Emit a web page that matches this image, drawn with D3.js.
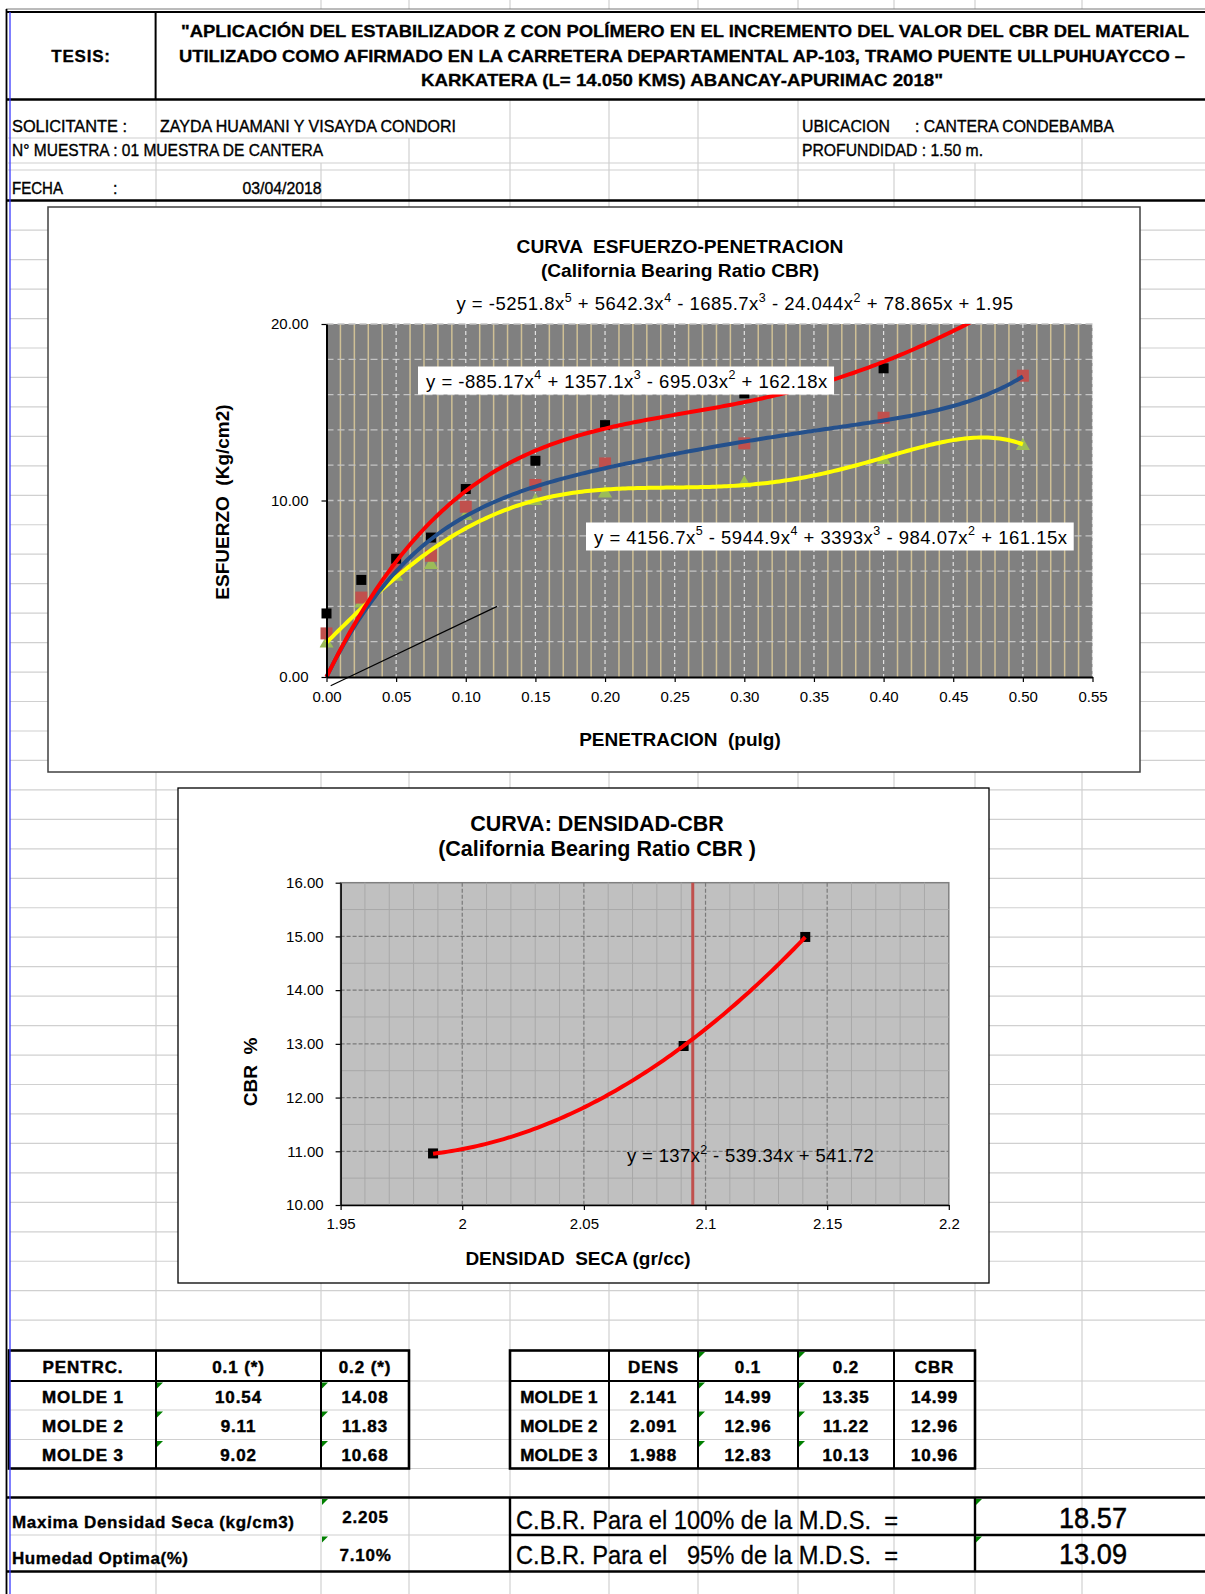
<!DOCTYPE html>
<html>
<head>
<meta charset="utf-8">
<script src="https://cdn.jsdelivr.net/npm/d3@7"></script>
<style>
  html, body { margin: 0; padding: 0; background: #fff; }
  svg { display: block; font-family: "Liberation Sans", Arial, Helvetica, sans-serif; }
  text { white-space: pre; }
</style>
</head>
<body>
<svg id="sheet" width="1205" height="1594"></svg>
<script>
// ---------------- data ----------------
// Esfuerzo-penetracion test readings (kg/cm2) per mould
const penetracion      = [0, 0.025, 0.05, 0.075, 0.1, 0.15, 0.2, 0.3, 0.4, 0.5];
const esfuerzoMolde1   = [3.6, 5.5, 6.7, 7.9, 10.65, 12.25, 14.27, 16.07, 17.49, null];
const esfuerzoMolde2   = [2.47, 4.5, 6.1, 6.87, 9.65, 10.88, 12.1, 13.24, 14.69, 17.07];
const esfuerzoMolde3   = [1.9, 4.17, 5.68, 6.35, 9.12, 9.97, 10.4, 10.97, 12.3, 13.09];
// polynomial trend lines, highest power first
const ajusteMolde1 = [-885.17, 1357.1, -695.03, 162.18, 0];
const ajusteMolde2 = [4156.7, -5944.9, 3393, -984.07, 161.15, 0];
const ajusteMolde3 = [-5251.8, 5642.3, -1685.7, -24.044, 78.865, 1.95];
// origin correction line (penetracion, esfuerzo)
const correccionX = [0.003, 0.1225];
const correccionY = [-0.5, 4.0];
const ticksPenetracion = [0, 0.05, 0.1, 0.15, 0.2, 0.25, 0.3, 0.35, 0.4, 0.45, 0.5, 0.55];
const ticksEsfuerzo = [0, 10, 20];

// Densidad-CBR
const densidadSeca = [2.141, 2.091, 1.988];
const cbrMolde     = [14.99, 12.96, 10.96];
const ajusteDensidad = [137, -539.34, 541.72];
const maxDensidadSeca = 2.205;
const humedadOptima = "7.10%";
const ticksDensidad = [1.95, 2, 2.05, 2.1, 2.15, 2.2];
const ticksCbr = [10, 11, 12, 13, 14, 15, 16];

// tables
const moldes   = ["MOLDE 1", "MOLDE 2", "MOLDE 3"];
const carga01  = [10.54, 9.11, 9.02];
const carga02  = [14.08, 11.83, 10.68];
const cbr01    = [14.99, 12.96, 12.83];
const cbr02    = [13.35, 11.22, 10.13];
const cbrFinal = [14.99, 12.96, 10.96];
const cbr100 = 18.57;
const cbr95  = 13.09;

// ---------------- helpers ----------------
const svg = d3.select("#sheet");
const poly = (c, x) => c.reduce((a, k) => a * x + k, 0);

function txt(g, x, y, s, o = {}) {
  const t = g.append("text")
    .attr("x", x).attr("y", y)
    .attr("font-size", o.size || 14)
    .attr("font-weight", o.bold ? "bold" : "normal")
    .attr("text-anchor", o.anchor || "start")
    .attr("dominant-baseline", "central")
    .attr("fill", o.fill || "#000")
    .text(s);
  if (o.len) t.attr("textLength", o.len).attr("lengthAdjust", o.adjust || "spacing");
  if (o.ls != null) t.attr("letter-spacing", o.ls);
  if (o.heavy) t.attr("stroke", "#000").attr("stroke-width", o.heavy);
  return t;
}
function line(g, x1, y1, x2, y2, stroke, w, dash) {
  const l = g.append("line").attr("x1", x1).attr("y1", y1).attr("x2", x2).attr("y2", y2)
    .attr("stroke", stroke).attr("stroke-width", w);
  if (dash) l.attr("stroke-dasharray", dash);
  return l;
}
// equation text with superscript powers, built from the coefficients
function equation(g, x, y, coefs, o = {}) {
  const n = coefs.length - 1;
  const t = g.append("text").attr("x", x).attr("y", y)
    .attr("font-size", o.size || 18.5).attr("letter-spacing", o.ls != null ? o.ls : 0.5)
    .attr("text-anchor", o.anchor || "start").attr("dominant-baseline", "central");
  let first = true, raised = false;
  coefs.forEach((c, i) => {
    const p = n - i;
    if (c === 0) return;
    const mag = String(Math.abs(c));
    let s = first ? "y = " + (c < 0 ? "-" : "") + mag : (c < 0 ? " - " : " + ") + mag;
    if (p >= 1) s += "x";
    const ts = t.append("tspan").text(s);
    if (raised) { ts.attr("dy", 5.5); raised = false; }
    if (p >= 2) {
      t.append("tspan").text(String(p)).attr("font-size", 12.5).attr("dy", -5.5);
      raised = true;
    }
    first = false;
  });
  return t;
}

// ---------------- spreadsheet grid ----------------
const COLS = [156, 321, 409, 510, 609, 698, 798, 894, 975, 1082];
const grid = svg.append("g");
const GRIDC = "#d0d0d0";
// tiny column stubs above the top border
COLS.slice(1).forEach(x => line(grid, x, 0, x, 9, GRIDC, 1.2));
// header info rows
[138, 163, 170].forEach(y => line(grid, 8, y, 1205, y, GRIDC, 1.2));
[[156, 100], [321, 163], [409, 138], [510, 100], [609, 100], [698, 100], [798, 100],
 [894, 163], [975, 163], [1082, 138]].forEach(([x, y0]) => line(grid, x, y0, x, 200, GRIDC, 1.2));
// body rows and columns
const ROW0 = 200.7, ROWH = 29.46;
for (let k = 1; k <= 38; k++) line(grid, 10, ROW0 + k * ROWH, 1205, ROW0 + k * ROWH, GRIDC, 1.2);
[1381, 1410, 1439.5, 1468.5, 1535].forEach(y => line(grid, 10, y, 1205, y, GRIDC, 1.2));
COLS.forEach(x => line(grid, x, 200, x, 1594, GRIDC, 1.2));

// ---------------- header ----------------
const hdr = svg.append("g");
line(hdr, 6, 9, 1205, 9, "#777", 1);
line(hdr, 6, 12, 1205, 12, "#000", 2);
line(hdr, 155.6, 12, 155.6, 99, "#000", 2);
line(hdr, 6, 99.5, 1205, 99.5, "#000", 2.6);
line(hdr, 6, 200.5, 1205, 200.5, "#000", 2.6);

const TT = { size: 17, bold: true, anchor: "middle", adjust: "spacingAndGlyphs", heavy: 0.3 };
txt(hdr, 81, 56, "TESIS:", { size: 17, bold: true, anchor: "middle", ls: 0.8, heavy: 0.3 });
txt(hdr, 685, 31.5, "\"APLICACIÓN DEL ESTABILIZADOR Z CON POLÍMERO EN EL INCREMENTO DEL VALOR DEL CBR DEL MATERIAL",
  { ...TT, len: 1008 });
txt(hdr, 682, 56, "UTILIZADO COMO AFIRMADO EN LA CARRETERA DEPARTAMENTAL AP-103, TRAMO PUENTE ULLPUHUAYCCO –",
  { ...TT, len: 1006 });
txt(hdr, 682, 80.5, "KARKATERA (L= 14.050 KMS) ABANCAY-APURIMAC 2018\"", { ...TT, len: 522 });

const HI = { size: 16, heavy: 0.35, adjust: "spacingAndGlyphs" };
txt(hdr, 12, 126, "SOLICITANTE :", { ...HI, len: 115 });
txt(hdr, 160, 126, "ZAYDA HUAMANI Y VISAYDA CONDORI", { ...HI, len: 296 });
txt(hdr, 802, 126, "UBICACION", { ...HI, len: 88 });
txt(hdr, 915, 126, ": CANTERA CONDEBAMBA", { ...HI, len: 199 });
txt(hdr, 12, 150.5, "N° MUESTRA : 01 MUESTRA DE CANTERA", { ...HI, len: 311 });
txt(hdr, 802, 150.5, "PROFUNDIDAD : 1.50 m.", { ...HI, len: 181 });
txt(hdr, 12, 188, "FECHA", { ...HI, len: 51 });
txt(hdr, 113, 188, ":", { size: 16, heavy: 0.35 });
txt(hdr, 282, 188, "03/04/2018", { ...HI, anchor: "middle", len: 79 });

// ---------------- chart 1: esfuerzo-penetracion ----------------
const c1 = svg.append("g");
c1.append("rect").attr("x", 48).attr("y", 207).attr("width", 1092).attr("height", 565)
  .attr("fill", "#fff").attr("stroke", "#404040").attr("stroke-width", 1.5);

const x1 = d3.scaleLinear().domain([0, 0.55]).range([326.5, 1092.5]);
const y1 = d3.scaleLinear().domain([0, 20]).range([677, 324]);

txt(c1, 680, 246.5, "CURVA  ESFUERZO-PENETRACION", { size: 19.2, bold: true, anchor: "middle" });
txt(c1, 680, 270, "(California Bearing Ratio CBR)", { size: 19.2, bold: true, anchor: "middle" });

c1.append("rect").attr("x", x1(0)).attr("y", y1(20))
  .attr("width", x1(0.55) - x1(0)).attr("height", y1(0) - y1(20)).attr("fill", "#808080");

// minor vertical grid every 0.01
d3.range(1, 55).filter(i => i % 5 !== 0).forEach(i =>
  line(c1, x1(i / 100), y1(20), x1(i / 100), y1(0), "#cfc096", 1.5));
// horizontal dashed grid every 2
d3.range(2, 21, 2).forEach(v => line(c1, x1(0), y1(v), x1(0.55), y1(v), "#c4c4c4", 1.3, "7,4"));
// vertical dashed grid every 0.05
ticksPenetracion.slice(1).forEach(v => line(c1, x1(v), y1(20), x1(v), y1(0), "#e2e2e2", 1.2, "4,3"));

const clip1 = svg.append("defs").append("clipPath").attr("id", "plot1");
clip1.append("rect").attr("x", x1(0) - 7).attr("y", y1(20)).attr("width", x1(0.55) - x1(0) + 14)
  .attr("height", y1(0) - y1(20) + 3);
const plot1 = c1.append("g").attr("clip-path", "url(#plot1)");

// markers
const pts = (vals) => penetracion.map((p, i) => [p, vals[i]]).filter(d => d[1] != null);
plot1.selectAll(".m3").data(pts(esfuerzoMolde3)).join("path")
  .attr("d", d3.symbol(d3.symbolTriangle, 85))
  .attr("transform", d => `translate(${x1(d[0])},${y1(d[1])})`).attr("fill", "#9bbb59");
plot1.selectAll(".m2").data(pts(esfuerzoMolde2)).join("rect")
  .attr("x", d => x1(d[0]) - 6).attr("y", d => y1(d[1]) - 6).attr("width", 12).attr("height", 12)
  .attr("fill", "#c0504d");
plot1.selectAll(".m1").data(pts(esfuerzoMolde1)).join("rect")
  .attr("x", d => x1(d[0]) - 5).attr("y", d => y1(d[1]) - 5).attr("width", 10).attr("height", 10)
  .attr("fill", "#000");

// trend curves
const curve = (coefs, xmax) => d3.range(0, 241).map(i => {
  const xv = xmax * i / 240; return [x1(xv), y1(poly(coefs, xv))];
});
const lineGen = d3.line();
plot1.append("path").attr("d", lineGen(curve(ajusteMolde3, 0.5)))
  .attr("fill", "none").attr("stroke", "#ffff00").attr("stroke-width", 4);
plot1.append("path").attr("d", lineGen(curve(ajusteMolde2, 0.5)))
  .attr("fill", "none").attr("stroke", "#24508c").attr("stroke-width", 4);
plot1.append("path").attr("d", lineGen(curve(ajusteMolde1, 0.5)))
  .attr("fill", "none").attr("stroke", "#ff0000").attr("stroke-width", 4);

// axes
const ax1 = c1.append("g").attr("transform", `translate(0,${y1(0)})`)
  .call(d3.axisBottom(x1).tickValues(ticksPenetracion).tickFormat(d3.format(".2f"))
    .tickSize(5).tickSizeOuter(0).tickPadding(9));
const ay1 = c1.append("g").attr("transform", `translate(${x1(0)},0)`)
  .call(d3.axisLeft(y1).tickValues(ticksEsfuerzo).tickFormat(d3.format(".2f"))
    .tickSize(5).tickSizeOuter(0).tickPadding(13));
[ax1, ay1].forEach(a => {
  a.select(".domain").attr("stroke", "#000").attr("stroke-width", 2);
  a.selectAll(".tick line").attr("stroke", "#000").attr("stroke-width", 1.2);
  a.selectAll("text").attr("font-size", 15).attr("font-family", null).attr("fill", "#000");
});

// origin correction line
c1.append("path").attr("d", d3.line()(correccionX.map((v, i) => [x1(v), y1(correccionY[i])])))
  .attr("stroke", "#000").attr("stroke-width", 1.2).attr("fill", "none");

// equation labels
equation(c1, 735, 303, ajusteMolde3, { anchor: "middle" });
[[ajusteMolde1, 426, 380.5], [ajusteMolde2, 594, 536.5]].forEach(([c, x, y]) => {
  const g = c1.append("g");
  const t = equation(g, x, y, c);
  const b = t.node().getBBox();
  g.insert("rect", "text").attr("x", b.x - 8).attr("y", y - 14).attr("width", b.width + 14)
    .attr("height", 28).attr("fill", "#fff");
});

txt(c1, 680, 739, "PENETRACION  (pulg)", { size: 19, bold: true, anchor: "middle" });
txt(c1, 0, 0, "ESFUERZO  (Kg/cm2)", { size: 19, bold: true, anchor: "middle" })
  .attr("transform", "translate(222,502) rotate(-90)");

// ---------------- chart 2: densidad-CBR ----------------
const c2 = svg.append("g");
c2.append("rect").attr("x", 178).attr("y", 788).attr("width", 811).attr("height", 495)
  .attr("fill", "#fff").attr("stroke", "#000").attr("stroke-width", 1.3);

const x2 = d3.scaleLinear().domain([1.95, 2.2]).range([340.6, 948.8]);
const y2 = d3.scaleLinear().domain([10, 16]).range([1205, 882.7]);

txt(c2, 597, 824, "CURVA: DENSIDAD-CBR", { size: 21.5, bold: true, anchor: "middle" });
txt(c2, 597, 849, "(California Bearing Ratio CBR )", { size: 21.5, bold: true, anchor: "middle" });

c2.append("rect").attr("x", x2(1.95)).attr("y", y2(16))
  .attr("width", x2(2.2) - x2(1.95)).attr("height", y2(10) - y2(16))
  .attr("fill", "#c0c0c0").attr("stroke", "#808080").attr("stroke-width", 1.5);
// minor grid
d3.range(1, 25).filter(i => i % 5 !== 0).forEach(i => {
  const v = 1.95 + i / 100; line(c2, x2(v), y2(16), x2(v), y2(10), "#a8a8a8", 1);
});
d3.range(0, 12).map(i => 10.5 + i * 0.5).filter(v => v % 1 !== 0).forEach(v =>
  line(c2, x2(1.95), y2(v), x2(2.2), y2(v), "#a8a8a8", 1));
// major dashed grid
ticksDensidad.slice(1, -1).forEach(v => line(c2, x2(v), y2(16), x2(v), y2(10), "#7a7a7a", 1.2, "4,2"));
ticksCbr.slice(1, -1).forEach(v => line(c2, x2(1.95), y2(v), x2(2.2), y2(v), "#7a7a7a", 1.2, "4,2"));

// points
c2.selectAll(".dp").data(densidadSeca.map((d, i) => [d, cbrMolde[i]])).join("rect")
  .attr("x", d => x2(d[0]) - 5).attr("y", d => y2(d[1]) - 5).attr("width", 10).attr("height", 10)
  .attr("fill", "#000");
// 95% of max dry density
const d95 = 0.95 * maxDensidadSeca;
line(c2, x2(d95), y2(16), x2(d95), y2(10), "#c0504d", 3);
// trend curve
const dMin = d3.min(densidadSeca), dMax = d3.max(densidadSeca);
c2.append("path").attr("d", d3.line()(d3.range(0, 101).map(i => {
  const xv = dMin + (dMax - dMin) * i / 100; return [x2(xv), y2(poly(ajusteDensidad, xv))];
}))).attr("fill", "none").attr("stroke", "#ff0000").attr("stroke-width", 4);

const ax2 = c2.append("g").attr("transform", `translate(0,${y2(10)})`)
  .call(d3.axisBottom(x2).tickValues(ticksDensidad).tickFormat(d => String(+d.toFixed(2)))
    .tickSize(5).tickSizeOuter(0).tickPadding(8));
const ay2 = c2.append("g").attr("transform", `translate(${x2(1.95)},0)`)
  .call(d3.axisLeft(y2).tickValues(ticksCbr).tickFormat(d3.format(".2f"))
    .tickSize(5).tickSizeOuter(0).tickPadding(12));
[ax2, ay2].forEach(a => {
  a.select(".domain").attr("stroke", "#000").attr("stroke-width", 1.5);
  a.selectAll(".tick line").attr("stroke", "#000").attr("stroke-width", 1.2);
  a.selectAll("text").attr("font-size", 15).attr("font-family", null).attr("fill", "#000");
});

equation(c2, 627, 1155, ajusteDensidad, { ls: 0.35 });
txt(c2, 578, 1258, "DENSIDAD  SECA (gr/cc)", { size: 19, bold: true, anchor: "middle" });
txt(c2, 0, 0, "CBR  %", { size: 19, bold: true, anchor: "middle" })
  .attr("transform", "translate(250,1072) rotate(-90)");

// ---------------- tables ----------------
const tb = svg.append("g");
const TB = { size: 17, bold: true, anchor: "middle", ls: 0.9, heavy: 0.45 };
const rowsY = [1367.5, 1397, 1426.5, 1455];

// left table
txt(tb, 83, rowsY[0], "PENTRC.", TB);
txt(tb, 238.5, rowsY[0], "0.1 (*)", TB);
txt(tb, 365, rowsY[0], "0.2 (*)", TB);
moldes.forEach((m, i) => {
  txt(tb, 83, rowsY[i + 1], m, TB);
  txt(tb, 238.5, rowsY[i + 1], carga01[i].toFixed(2), TB);
  txt(tb, 365, rowsY[i + 1], carga02[i].toFixed(2), TB);
});
tb.append("rect").attr("x", 9).attr("y", 1350.5).attr("width", 400).attr("height", 118)
  .attr("fill", "none").attr("stroke", "#000").attr("stroke-width", 2.6);
line(tb, 9, 1381, 409, 1381, "#000", 2);
[156, 321].forEach(x => line(tb, x, 1350.5, x, 1468.5, "#000", 2));

// right table
const rc = [559, 653.5, 748, 846, 934.5];
["DENS", "0.1", "0.2", "CBR"].forEach((h, i) => txt(tb, rc[i + 1], rowsY[0], h, TB));
moldes.forEach((m, i) => {
  const y = rowsY[i + 1];
  txt(tb, rc[0], y, m, { ...TB, ls: 0.3 });
  txt(tb, rc[1], y, densidadSeca[i].toFixed(3), TB);
  txt(tb, rc[2], y, cbr01[i].toFixed(2), TB);
  txt(tb, rc[3], y, cbr02[i].toFixed(2), TB);
  txt(tb, rc[4], y, cbrFinal[i].toFixed(2), TB);
});
tb.append("rect").attr("x", 510).attr("y", 1350.5).attr("width", 465).attr("height", 118)
  .attr("fill", "none").attr("stroke", "#000").attr("stroke-width", 2.6);
line(tb, 510, 1381, 975, 1381, "#000", 2);
[609, 698, 798, 894].forEach(x => line(tb, x, 1350.5, x, 1468.5, "#000", 2));

// results block
line(tb, 6, 1497.5, 1205, 1497.5, "#000", 2.6);
line(tb, 510, 1535, 1205, 1535, "#000", 2.4);
line(tb, 6, 1571.5, 1205, 1571.5, "#000", 2.6);
[510, 975].forEach(x => line(tb, x, 1497.5, x, 1571.5, "#000", 2.4));

txt(tb, 12, 1522, "Maxima Densidad Seca (kg/cm3)", { size: 17, bold: true, len: 282, heavy: 0.35 });
txt(tb, 12, 1558, "Humedad Optima(%)", { size: 17, bold: true, len: 176, heavy: 0.35 });
txt(tb, 365.5, 1517, maxDensidadSeca.toFixed(3), { size: 17, bold: true, anchor: "middle", ls: 0.8, heavy: 0.35 });
txt(tb, 365.5, 1555, humedadOptima, { size: 17, bold: true, anchor: "middle", ls: 0.8, heavy: 0.35 });
txt(tb, 516, 1520, "C.B.R. Para el 100% de la M.D.S.  =",
  { size: 26, len: 382, adjust: "spacingAndGlyphs", heavy: 0.3 });
txt(tb, 516, 1555, "C.B.R. Para el   95% de la M.D.S.  =",
  { size: 26, len: 382, adjust: "spacingAndGlyphs", heavy: 0.3 });
txt(tb, 1093, 1517.5, cbr100.toFixed(2), { size: 30, anchor: "middle", len: 68, adjust: "spacingAndGlyphs", heavy: 0.5 });
txt(tb, 1093, 1553.5, cbr95.toFixed(2), { size: 30, anchor: "middle", len: 68, adjust: "spacingAndGlyphs", heavy: 0.5 });

// green cell-note markers
const notes = [[156, 1381], [156, 1410], [156, 1439.5], [321, 1381], [321, 1410], [321, 1439.5],
  [698, 1350.5], [798, 1350.5], [698, 1381], [698, 1410], [698, 1439.5],
  [798, 1381], [798, 1410], [798, 1439.5], [321, 1497.5], [321, 1535], [975, 1497.5], [975, 1535]];
tb.selectAll(".note").data(notes).join("path")
  .attr("d", d => `M${d[0] + 1},${d[1] + 1.5}h6l-6,6z`).attr("fill", "#008000");

// ---------------- page left border ----------------
line(svg, 6.5, 9, 6.5, 1594, "#000", 1.8);
line(svg, 10, 12, 10, 1594, "#3a3aff", 1.3);
</script>
</body>
</html>
